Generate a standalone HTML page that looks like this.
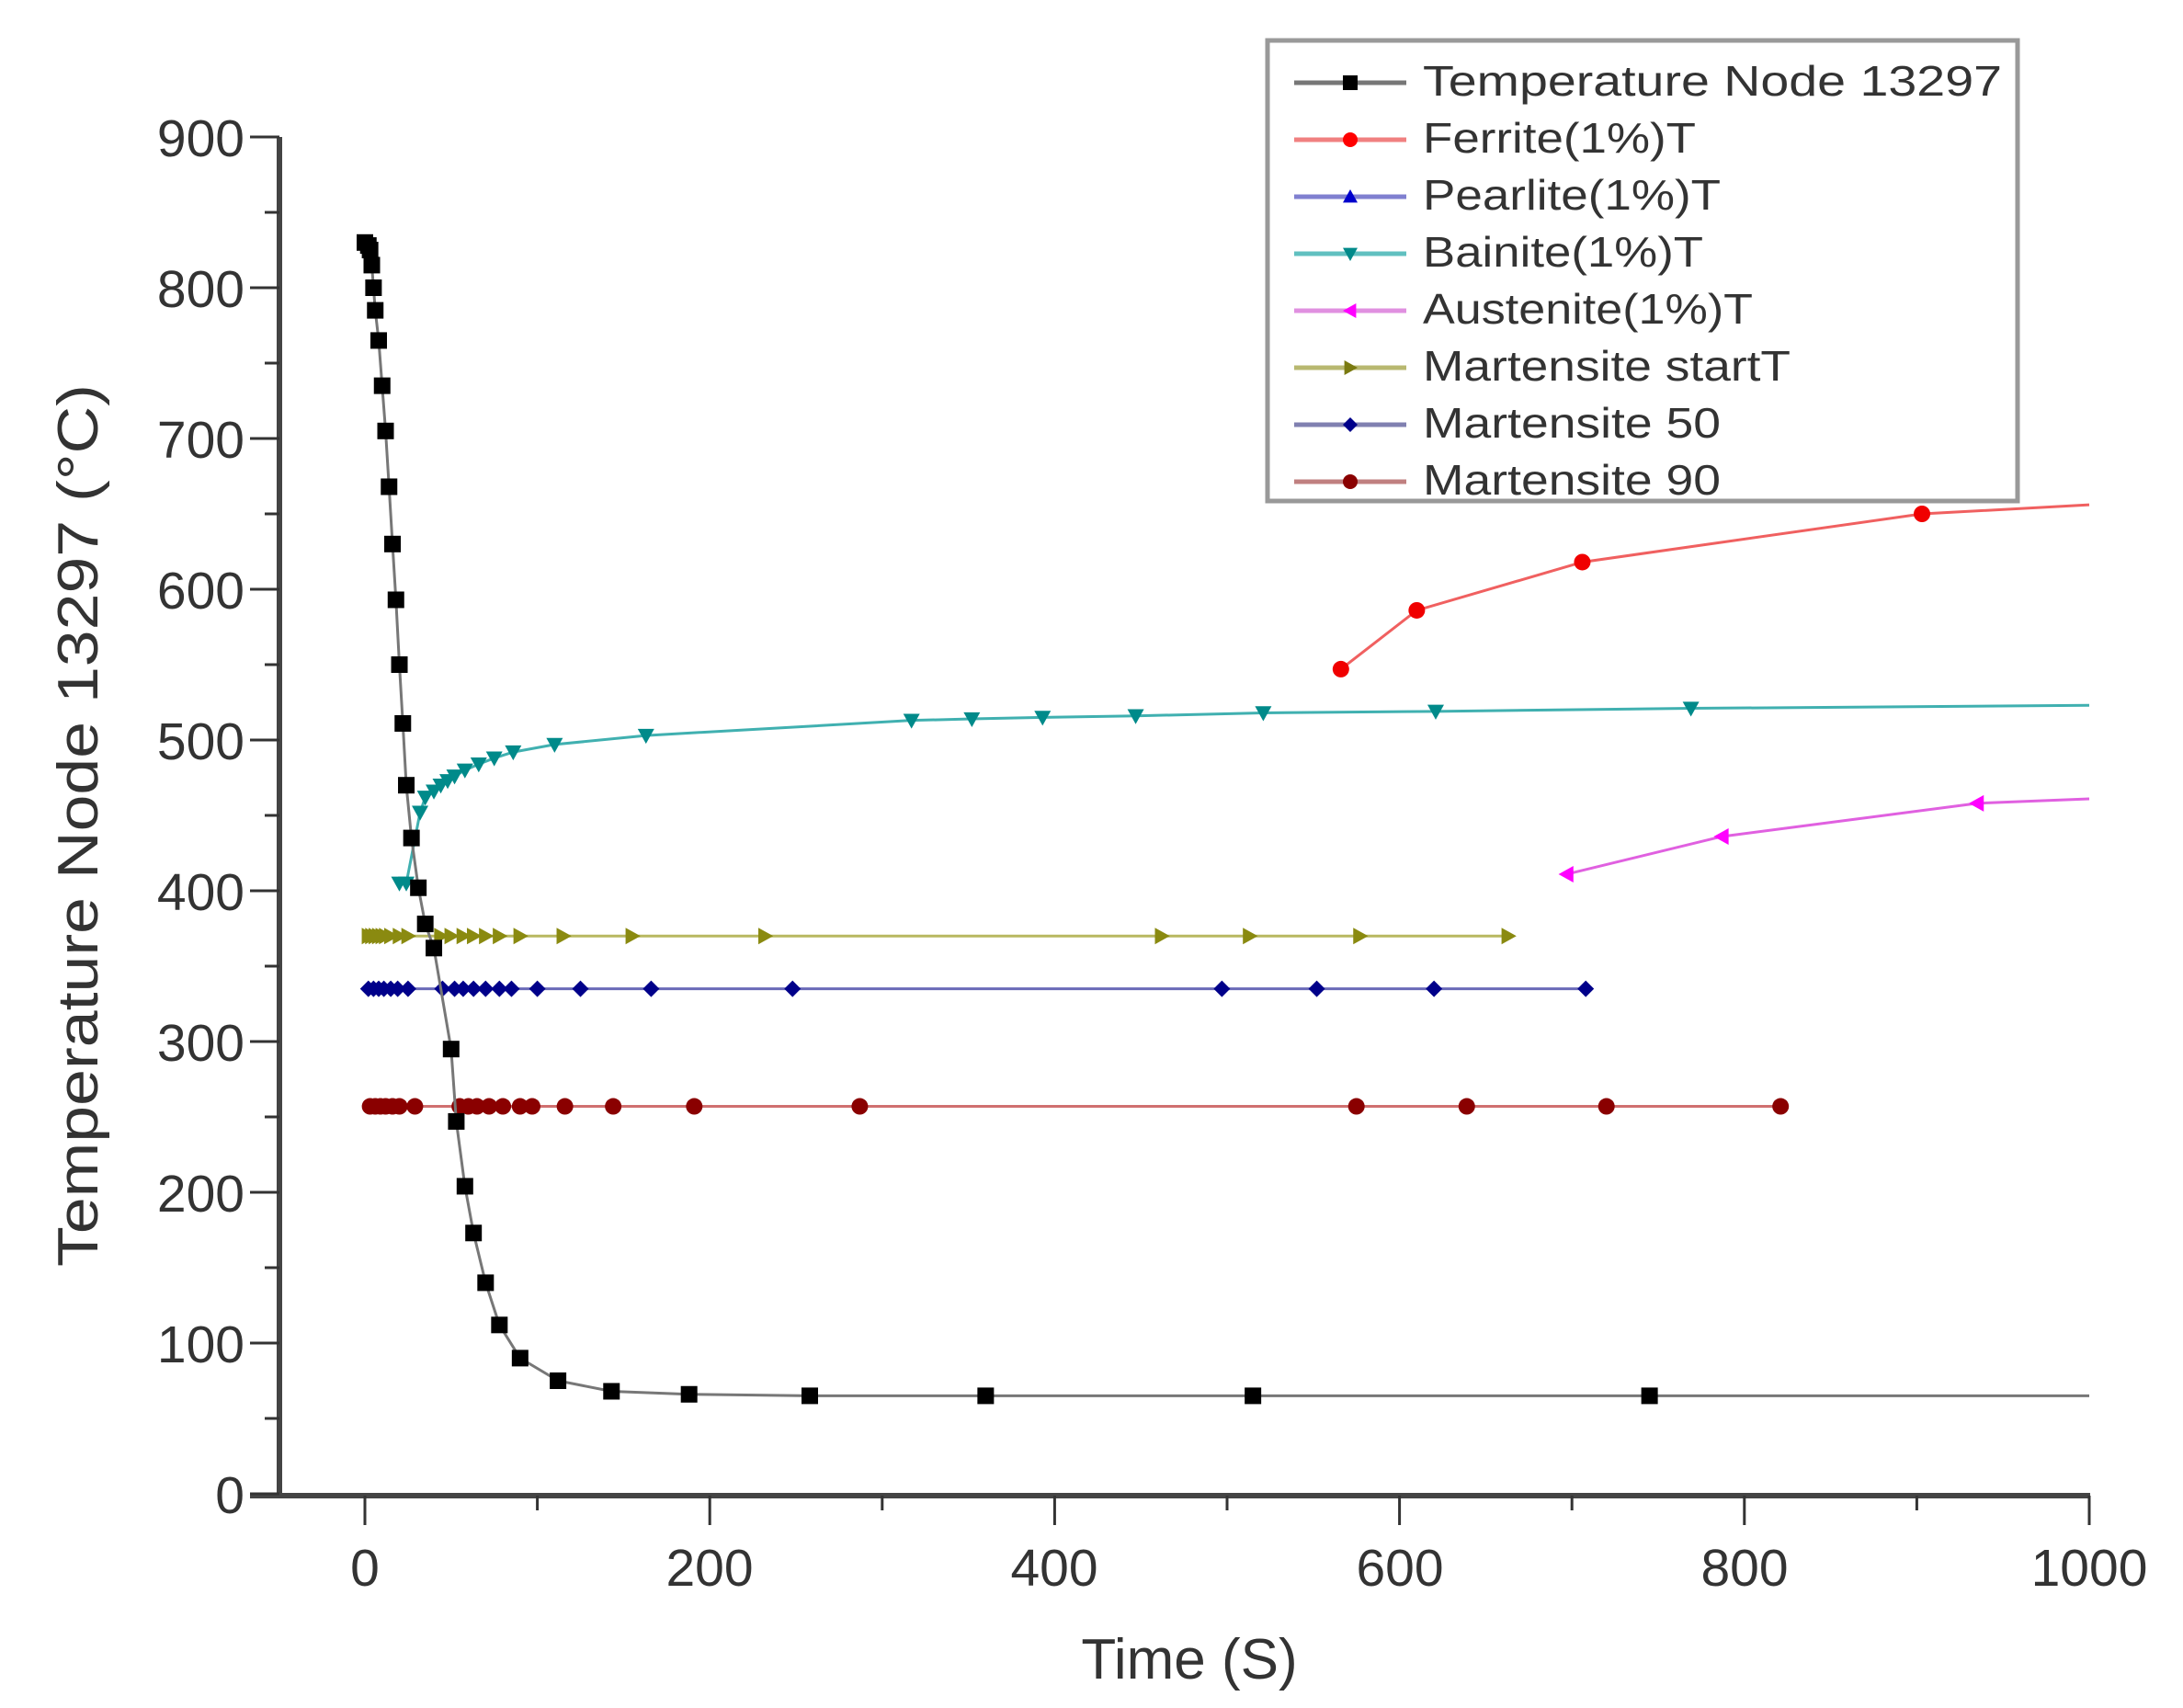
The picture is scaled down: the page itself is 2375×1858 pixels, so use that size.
<!DOCTYPE html>
<html><head><meta charset="utf-8"><style>html,body{margin:0;padding:0;background:#fff}svg{display:block}</style></head>
<body>
<svg id="s" width="2375" height="1858" viewBox="0 0 2375 1858" xmlns="http://www.w3.org/2000/svg" font-family="Liberation Sans, sans-serif">
<rect width="2375" height="1858" fill="#fff"/>
<g id="plot"></g>
<line x1="304" y1="149" x2="304" y2="1627" stroke="#444" stroke-width="6"/>
<line x1="272" y1="1627" x2="2274" y2="1627" stroke="#444" stroke-width="6"/>
<g id="ticks" stroke="#333" stroke-width="3"></g>
<g font-size="57" fill="#333" text-anchor="end">
<text x="266" y="1646">0</text>
<text x="266" y="1482">100</text>
<text x="266" y="1318">200</text>
<text x="266" y="1154">300</text>
<text x="266" y="990">400</text>
<text x="266" y="826">500</text>
<text x="266" y="662">600</text>
<text x="266" y="498">700</text>
<text x="266" y="334">800</text>
<text x="266" y="170">900</text>
</g>
<g font-size="57" fill="#333" text-anchor="middle">
<text x="397" y="1725">0</text>
<text x="772" y="1725">200</text>
<text x="1147" y="1725">400</text>
<text x="1523" y="1725">600</text>
<text x="1898" y="1725">800</text>
<text x="2273" y="1725">1000</text>
</g>
<text x="1294" y="1826" font-size="62" fill="#333" text-anchor="middle">Time (S)</text>
<text transform="translate(106,898) rotate(-90)" font-size="62" fill="#333" text-anchor="middle" textLength="960" lengthAdjust="spacingAndGlyphs">Temperature  Node 13297 (°C)</text>
<g transform="translate(-8,0)">
<rect x="1387" y="44" width="816" height="501" fill="#fff" stroke="#999" stroke-width="5"/>
<g id="leg"></g>
<g font-size="46" fill="#333">
<text x="1556" y="104" textLength="630" lengthAdjust="spacingAndGlyphs">Temperature  Node 13297</text>
<text x="1556" y="166" textLength="297" lengthAdjust="spacingAndGlyphs">Ferrite(1%)T</text>
<text x="1556" y="228" textLength="324" lengthAdjust="spacingAndGlyphs">Pearlite(1%)T</text>
<text x="1556" y="290" textLength="305" lengthAdjust="spacingAndGlyphs">Bainite(1%)T</text>
<text x="1556" y="352" textLength="359" lengthAdjust="spacingAndGlyphs">Austenite(1%)T</text>
<text x="1556" y="414" textLength="400" lengthAdjust="spacingAndGlyphs">Martensite startT</text>
<text x="1556" y="476" textLength="324" lengthAdjust="spacingAndGlyphs">Martensite 50</text>
<text x="1556" y="538" textLength="324" lengthAdjust="spacingAndGlyphs">Martensite 90</text>
</g>
</g>
</svg>
<script>
var NS="http://www.w3.org/2000/svg";
function X(t){return 397+1.876*t}
function Y(T){return 1625-1.64*T}
function el(p,n,a){var e=document.createElementNS(NS,n);for(var k in a)e.setAttribute(k,a[k]);p.appendChild(e);return e}
var tk=document.getElementById('ticks');
for(var v=0;v<=900;v+=50){var y=Y(v);el(tk,'line',{x1:v%100?288:272,y1:y,x2:304,y2:y});}
for(var t=0;t<=1000;t+=100){var x=X(t);el(tk,'line',{x1:x,y1:1627,x2:x,y2:t%200?1643:1659});}
function mk(g,type,x,y,c,s){s=s||9;
 if(type=='sq')el(g,'rect',{x:x-s,y:y-s,width:2*s,height:2*s,fill:c});
 else if(type=='ci')el(g,'circle',{cx:x,cy:y,r:s,fill:c});
 else if(type=='dn')el(g,'polygon',{points:(x-s)+','+(y-s*0.8)+' '+(x+s)+','+(y-s*0.8)+' '+x+','+(y+s),fill:c});
 else if(type=='up')el(g,'polygon',{points:(x-s)+','+(y+s*0.8)+' '+(x+s)+','+(y+s*0.8)+' '+x+','+(y-s),fill:c});
 else if(type=='lt')el(g,'polygon',{points:(x+s*0.8)+','+(y-s)+' '+(x+s*0.8)+','+(y+s)+' '+(x-s)+','+y,fill:c});
 else if(type=='rt')el(g,'polygon',{points:(x-s*0.8)+','+(y-s)+' '+(x-s*0.8)+','+(y+s)+' '+(x+s)+','+y,fill:c});
 else if(type=='di')el(g,'polygon',{points:x+','+(y-s)+' '+(x+s)+','+y+' '+x+','+(y+s)+' '+(x-s)+','+y,fill:c});
}
var P=document.getElementById('plot');
function series(pts,lc,mc,type,lastNoMark){
 el(P,'polyline',{points:pts.map(function(p){return X(p[0])+','+Y(p[1])}).join(' '),fill:'none',stroke:lc,'stroke-width':3});
 pts.forEach(function(p,i){if(lastNoMark&&i==pts.length-1)return;mk(P,type,X(p[0]),Y(p[1]),mc);});
}
function flat(ts,T){return ts.map(function(t){return[t,T]})}
series(flat([2,4,6,8,10,12,15,20,25,44,50,57,63,70,78,90,115,155,232,462,513,577,663],370),'#b8b860','#8a8a10','rt');
series(flat([2,5,8,11,15,19,25,45,52,57,63,70,78,85,100,125,166,248,497,552,620,708],335),'#6a6ab8','#00008a','di');
series(flat([3,6,9,12,16,20,29,55,60,65,72,80,90,97,116,144,191,287,575,639,720,821],257),'#d07070','#8a0000','ci');
series([[20,405],[24,405],[32,452],[35,462],[40,466],[44,470],[48,473],[52,476],[58,480],[66,484],[75,488],[86,492],[110,497],[163,503],[317,513],[352,514],[393,515],[447,516],[521,518],[621,519],[769,521],[1000,523]],'#40b0b0','#008a8a','dn',true);
series([[566,547],[610,586],[706,618],[903,650],[1000,656]],'#f06060','#f00000','ci',true);
series([[697,411],[787,436],[935,458],[1000,461]],'#e060e0','#ff00ff','lt',true);
series([[0,830],[2,828],[3,825],[4,815],[5,800],[6,785],[8,765],[10,735],[12,705],[14,668],[16,630],[18,593],[20,550],[22,511],[24,470],[27,435],[31,402],[35,378],[40,362],[50,295],[53,247],[58,204],[63,173],[70,140],[78,112],[90,90],[112,75],[143,68],[188,66],[258,65],[360,65],[515,65],[745,65],[1000,65]],'#777','#000','sq',true);
var L=document.getElementById('leg');
var lg=[['#777','#000','sq'],['#f08080','#f00','ci'],['#8080d0','#00c','up'],['#60c0c0','#008a8a','dn'],['#e090e0','#f0f','lt'],['#b8b870','#7a7a10','rt'],['#8080b0','#00008a','di'],['#c08080','#8a0000','ci']];
lg.forEach(function(a,i){var y=90+i*62;el(L,'line',{x1:1416,y1:y,x2:1538,y2:y,stroke:a[0],'stroke-width':5});mk(L,a[2],1477,y,a[1],8);});
</script>
</body></html>
